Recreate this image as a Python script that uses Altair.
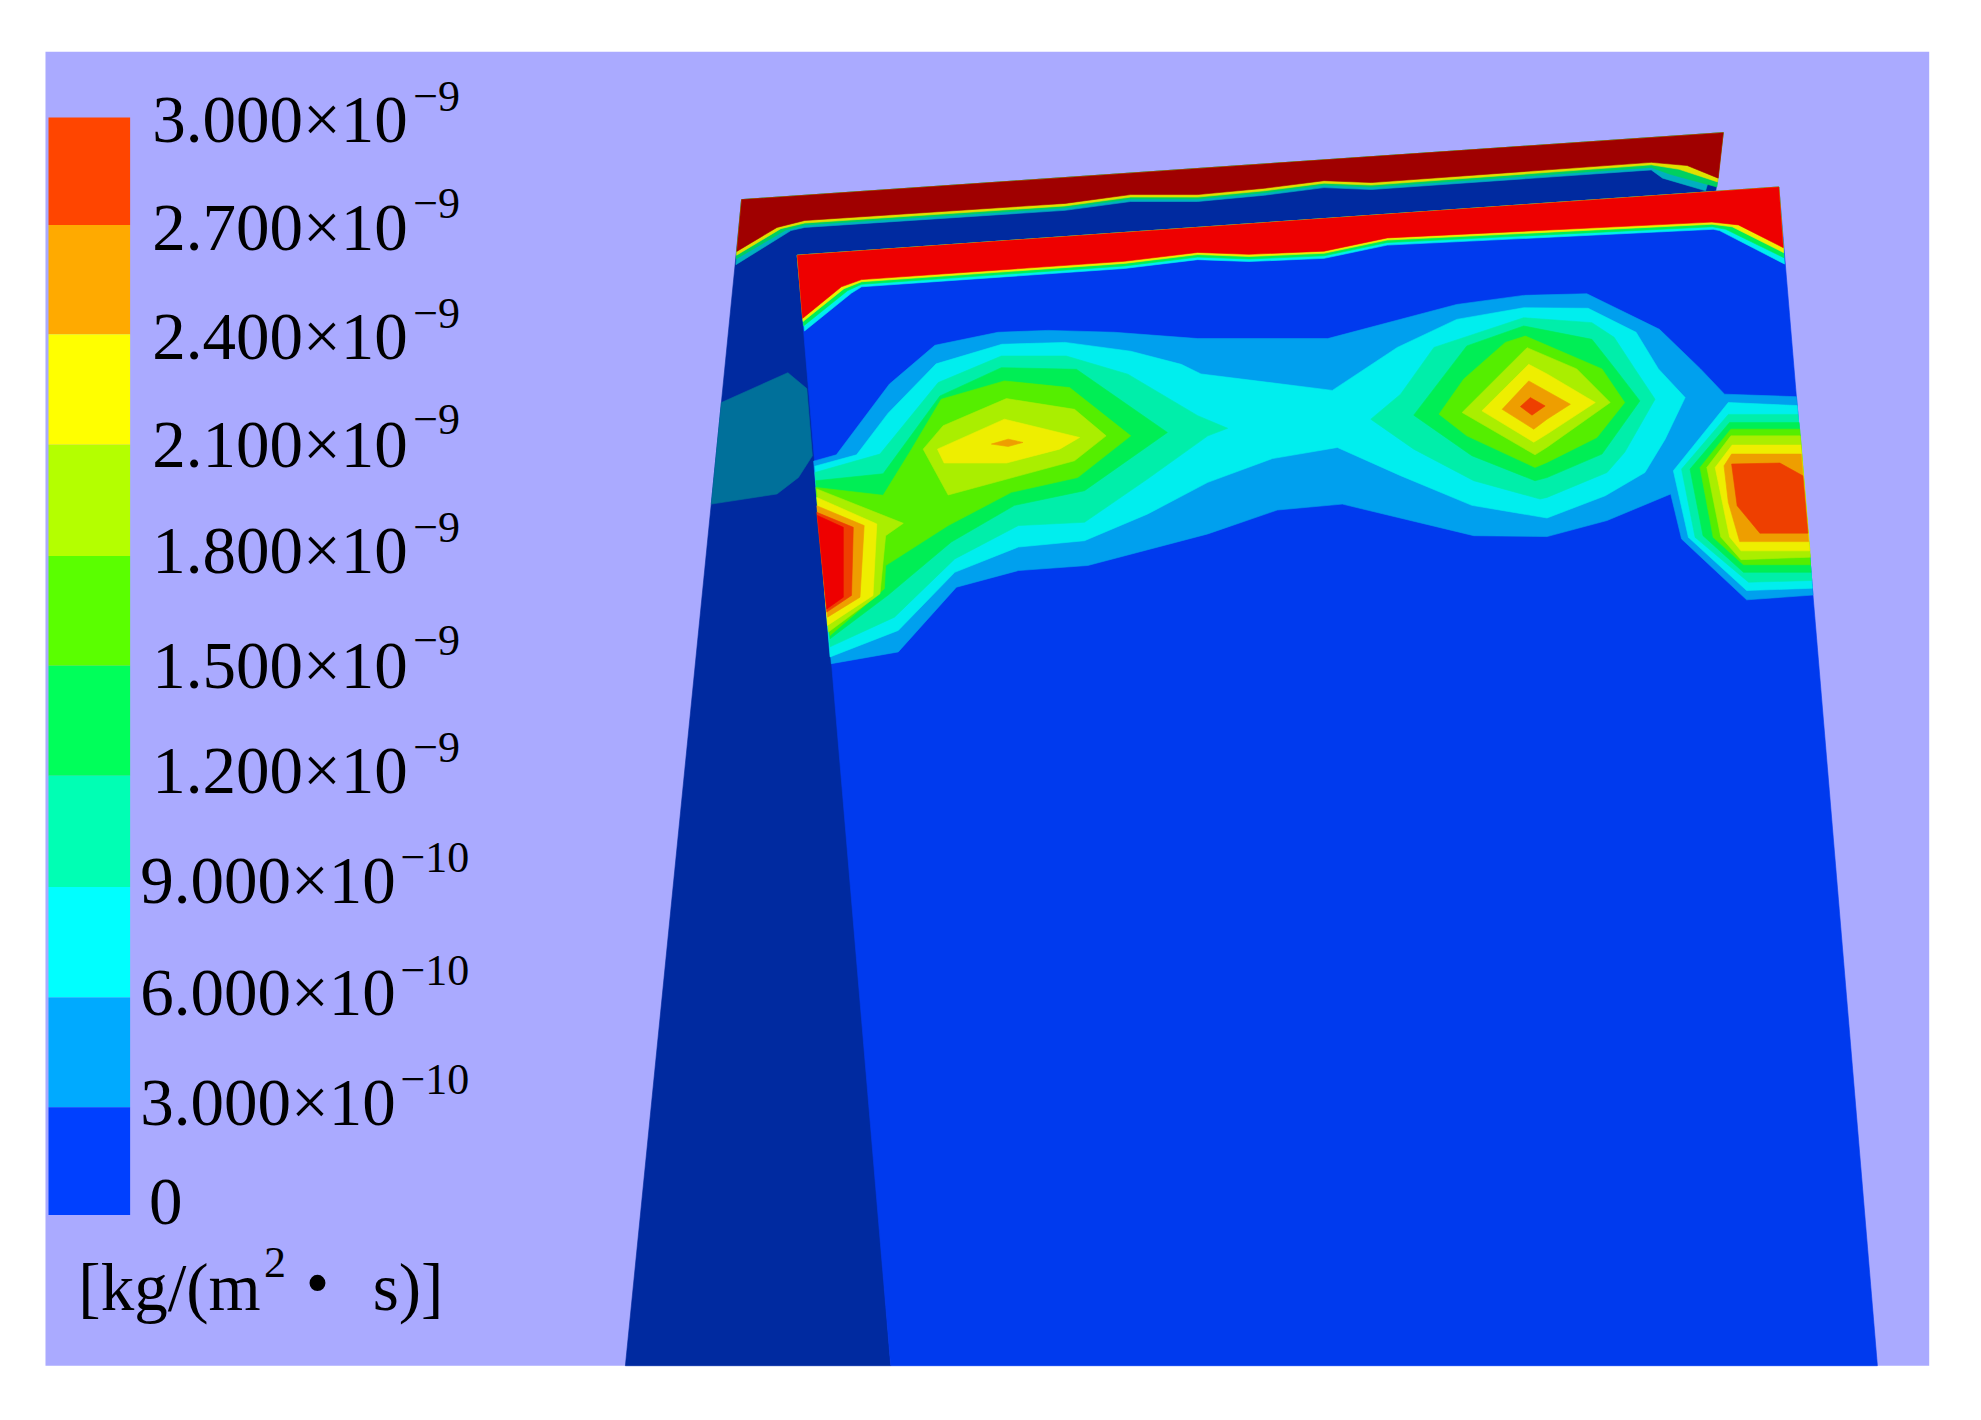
import altair as alt
import pandas as pd

K = 1981 / 1568
XD = [8 / K, 1973 / K]
YD = [1412 / K, 8 / K]

# colour bar
bar_edges = [93, 178, 264.6, 352, 440, 527, 614, 702, 789.5, 876.4, 961.7]
bar_colors = ["#FF4500", "#FFAA00", "#FFFF00", "#B4FF00", "#5AFF00", "#00FF5A", "#00FFB4", "#00FFFF", "#00AAFF", "#0040FF"]

# colour bar labels
mant_text = ["3.000×10", "2.700×10", "2.400×10", "2.100×10", "1.800×10", "1.500×10", "1.200×10", "9.000×10", "6.000×10", "3.000×10", "0"]
mant_x = [120.5, 120.5, 120.5, 120.5, 120.5, 120.5, 120.5, 111, 111, 111, 118]
mant_y = [112, 197.5, 284, 369.4, 453.7, 544.3, 627.5, 715, 803.7, 890.8, 968.5]
exp_text = ["−9", "−9", "−9", "−9", "−9", "−9", "−9", "−10", "−10", "−10"]
exp_x = [327, 327, 327, 327, 327, 327, 327, 317, 317, 317]
exp_y = [88, 172.5, 260, 343.6, 429, 518.7, 603, 690, 779.5, 866]
unit_text = ["[kg/(m", "s)]"]
unit_x = [62, 295]
unit_y = [1037, 1037]

# field colours
BLUE, SKY, CYAN, TEAL, GREEN, LIME, YG, YEL, ORG, ROR, RED = (
    "#003AEE", "#00A0EE", "#00EEEE", "#00EEAA", "#00EE55", "#55EE00",
    "#AAEE00", "#EEEE00", "#EE9E00", "#EE3F00", "#EE0000")
BACK, BACK_RED, PATCH = "#002AA0", "#A00000", "#00709A"

back_plate = [(587, 158), (1364, 105), (1358, 152), (640, 260), (705, 1081), (495, 1081)]
back_patch = [(571, 318.6), (623.6, 295), (638.6, 307.6), (643, 360.8), (632, 377.9), (615, 391), (563, 399)]
back_cyan = [(582.5, 209.5), (626, 182.5), (637, 180), (843, 166.5), (895, 159.5), (948, 159.5), (1001, 154.5), (1048, 148.5), (1085.5, 150), (1307, 134.5), (1316, 141), (1350, 151)]
back_green = [(582.6, 205), (622, 182), (637, 178), (843, 164.5), (895, 157.5), (948, 157.5), (1001, 152.5), (1048, 146.5), (1085.5, 148), (1307, 132.5), (1322, 138), (1359, 148)]
back_yellow = [(583, 202), (618, 181), (637, 176.5), (843, 163), (895, 156), (948, 156), (1001, 151), (1048, 145), (1085.5, 146.5), (1307, 130.5), (1329, 134), (1359.5, 144)]
back_red = [(583.2, 199), (615, 180), (637, 174.5), (843, 161), (895, 154), (948, 154), (1001, 149), (1048, 143), (1085.5, 144.5), (1307, 128.5), (1335.4, 131), (1360, 141)]

front_plate = [(631, 202), (1408, 148), (1486, 1081), (705, 1081)]
front_cyan = [(636.8, 262), (674, 232), (682, 227), (890, 212.5), (948, 205.5), (988.6, 207), (1048, 204.5), (1098, 194), (1356, 181.5), (1361, 182.5), (1412.5, 209)]
front_green = [(636, 258), (671, 230), (682, 225), (890, 210.5), (948, 203.5), (988.6, 205), (1048, 202.5), (1098, 192), (1355.5, 179.5), (1366, 181.5), (1412, 204)]
front_yellow = [(635.6, 254.5), (668, 228.5), (682, 223), (890, 208.5), (948, 201.5), (988.6, 203), (1048, 200.5), (1098, 190), (1355, 177.5), (1371, 179.5), (1411.8, 200)]
front_red = [(635.2, 252), (666, 227), (682, 221.3), (890, 206.8), (948, 199.8), (988.6, 201.3), (1048, 198.8), (1098, 188.3), (1355, 175.8), (1376, 178), (1411.5, 196)]

sky_main = [(644, 365), (662, 360), (704, 304), (740, 273.3), (790, 263), (829.5, 261.5), (882, 263), (948, 268), (1051, 268), (1153, 241), (1206, 233.8), (1256, 232.5), (1313.5, 260.7), (1346, 292), (1365, 312), (1422, 314), (1435, 471), (1382.5, 474.8), (1331, 426.6), (1322.4, 391), (1272, 412), (1224.5, 424.7), (1166.5, 424), (1062.5, 399), (1011, 403.7), (956, 422.6), (861, 447.6), (806, 451.6), (757, 464.8), (711, 516), (658, 525.3)]
cyan_main = [(645, 369), (678, 360), (703, 327), (741, 288), (793, 272.5), (843, 271), (895, 278), (935, 288.4), (950.6, 296), (1054.6, 309), (1106, 275), (1153, 252.8), (1206, 243.6), (1257, 244), (1295, 263), (1312.7, 292), (1333.8, 314.7), (1318, 347.6), (1302, 374), (1270.6, 392.4), (1224.5, 410), (1165, 400), (1108.6, 376.5), (1058.6, 354.2), (1007, 363), (956, 381.8), (908.5, 406.8), (858.4, 428), (806, 433), (755.7, 453), (711, 499), (657, 520)]
cyan_right = [(1368, 318.6), (1422.5, 321), (1434.5, 465.6), (1382.5, 467.4), (1336.4, 425.3), (1324.5, 372.6)]
teal_left = [(645, 374), (696.5, 359.4), (742.6, 302.8), (792.6, 281.8), (844, 281.8), (892.7, 296.2), (948, 329), (971.7, 339), (956, 345), (908.5, 379), (858.4, 413.4), (806, 416), (755.7, 442.4), (708, 488.5), (657, 512)]
teal_mid = [(1085, 331.8), (1108.6, 312), (1135, 275), (1206, 251.5), (1260, 255.4), (1277.6, 267), (1294, 292), (1310, 316), (1286, 358), (1272, 374), (1224.5, 393.7), (1219, 395), (1166.5, 380.5), (1119, 355.5)]
teal_right = [(1368, 328), (1423, 328), (1434, 459.5), (1384, 460.8), (1341.7, 425.3), (1331, 371.3)]
green_left = [(645.7, 380.5), (699, 375), (744, 313.4), (792.6, 291), (852, 292.3), (924, 342.3), (858.4, 388.4), (803, 400), (753, 429), (703, 471), (657, 505.6)]
green_mid = [(1119, 328.6), (1161, 273.8), (1206, 258), (1260, 268.6), (1278.5, 292), (1298, 317.3), (1268, 359.4), (1224.5, 378), (1215, 380.5), (1165, 360.7)]
green_right = [(1369, 334.4), (1424, 334.4), (1433.5, 453), (1380, 453), (1348, 424), (1337.7, 371.3)]
lime_left = [(645.7, 385.8), (699, 392), (721.5, 355.5), (745, 316), (795, 301.5), (846.6, 306.8), (895, 345), (853, 378), (800.5, 389.7), (750.5, 416), (701, 447.7), (700, 466), (657, 503)]
lime_mid = [(1139, 327.8), (1158.6, 300), (1191.5, 271), (1207.4, 266), (1268, 292), (1286, 318.6), (1264, 346.3), (1224.5, 366), (1215, 370), (1161, 345)]
lime_right = [(1370, 339.7), (1424.5, 339.7), (1433, 447), (1380, 447), (1356, 425.3), (1345.6, 370)]
yg_left = [(730.7, 355.5), (746.5, 337), (796.6, 315.5), (850.5, 324), (875.5, 345), (850.5, 364.7), (750.5, 391.8)]
yg_mid = [(1157.3, 326.5), (1208.7, 275.2), (1248, 292), (1274.5, 318.6), (1224.5, 354), (1215, 360)]
yg_right = [(1370, 345), (1425, 345), (1433, 441), (1378, 443), (1362, 425), (1351, 370)]
yg_blob = [(646.5, 387), (715, 414.2), (701, 424), (696.5, 470), (655.7, 500.3)]
yel_left = [(742, 355.5), (795, 331.8), (854.5, 346.3), (838.7, 355.5), (796.6, 366.5), (747.3, 366.5)]
yel_mid = [(1173, 325.2), (1210, 288.4), (1224.5, 296), (1262.7, 318.6), (1224.5, 343.6), (1214, 350)]
yel_right = [(1371, 352.3), (1425.3, 352.3), (1432.5, 436), (1378, 436), (1369, 425), (1357.6, 370)]
yel_blob = [(646.5, 393.7), (694, 414.7), (691, 471.4), (655, 495)]
org_left = [(784.7, 351.5), (798, 347.6), (809.7, 350.2), (798, 353.4)]
org_mid = [(1189, 324), (1210, 301.5), (1243, 320), (1224.5, 331.8), (1214, 339.7)]
org_right = [(1370.6, 359.4), (1425.7, 359.4), (1431.5, 428.7), (1377, 428.7), (1368, 397.6), (1364.6, 368.7)]
org_blob = [(646.5, 400.3), (684, 416), (680.7, 472.7), (655, 488.5)]
ror_mid = [(1203.4, 321.8), (1211.3, 314.7), (1223, 321.3), (1212.6, 328.6)]
ror_right = [(1370.6, 367.3), (1408.8, 366.5), (1427, 376.6), (1431, 422), (1393, 422), (1375, 400.3)]
ror_blob = [(646.5, 405.5), (675.4, 417.4), (674, 471.3), (654.4, 484.5)]
red_blob = [(647, 408), (667.5, 417.4), (667.5, 472.7), (654.4, 482)]

shapes = [
    (BACK, back_plate), (PATCH, back_patch),
    ("#00B0C0", [(587, 158), (1364, 105)] + back_cyan[::-1]),
    ("#00D060", [(587, 158), (1364, 105)] + back_green[::-1]),
    ("#E0E000", [(587, 158), (1364, 105)] + back_yellow[::-1]),
    (BACK_RED, [(587, 158), (1364, 105)] + back_red[::-1]),
    (BLUE, front_plate),
    (CYAN, [(631, 202), (1408, 148)] + front_cyan[::-1]),
    (GREEN, [(631, 202), (1408, 148)] + front_green[::-1]),
    (YEL, [(631, 202), (1408, 148)] + front_yellow[::-1]),
    (RED, [(631, 202), (1408, 148)] + front_red[::-1]),
    (SKY, sky_main), (CYAN, cyan_main), (CYAN, cyan_right),
    (TEAL, teal_left), (TEAL, teal_mid), (TEAL, teal_right),
    (GREEN, green_left), (GREEN, green_mid), (GREEN, green_right),
    (LIME, lime_left), (LIME, lime_mid), (LIME, lime_right),
    (YG, yg_left), (YG, yg_mid), (YG, yg_right), (YG, yg_blob),
    (YEL, yel_left), (YEL, yel_mid), (YEL, yel_right), (YEL, yel_blob),
    (ORG, org_left), (ORG, org_mid), (ORG, org_right), (ORG, org_blob),
    (ROR, ror_mid), (ROR, ror_right), (ROR, ror_blob), (RED, red_blob),
]

rows = []
for i, (col, pts) in enumerate(shapes):
    for j, (px, py) in enumerate(pts):
        rows.append({"sid": i, "pt": j, "x": px, "y": py, "c": col})
poly_df = pd.DataFrame(rows)

X = alt.Scale(domain=XD, nice=False, zero=False)
Y = alt.Scale(domain=YD, nice=False, zero=False)
ex = alt.X("x:Q", scale=X, axis=None, title=None)
ey = alt.Y("y:Q", scale=Y, axis=None, title=None)

panel = alt.Chart(pd.DataFrame({"x": [36], "x2": [1527], "y": [41], "y2": [1081]})).mark_rect(color="#AAAAFF").encode(
    x=ex, x2="x2:Q", y=ey, y2="y2:Q")

polys = alt.Chart(poly_df).mark_line(interpolate="linear-closed", strokeWidth=0.6).encode(
    x=ex, y=ey,
    detail=alt.Detail("sid:Q"),
    order=alt.Order("pt:Q"),
    fill=alt.Fill("c:N", scale=None),
    stroke=alt.Stroke("c:N", scale=None),
)

bar_df = pd.DataFrame({"x": [38.4] * 10, "x2": [103] * 10, "y": bar_edges[:-1], "y2": bar_edges[1:], "c": bar_colors})
bar = alt.Chart(bar_df).mark_rect().encode(x=ex, x2="x2:Q", y=ey, y2="y2:Q", fill=alt.Fill("c:N", scale=None))

FONT = "Liberation Serif"
def text_layer(txt, xs, ys, size):
    d = pd.DataFrame({"t": txt, "x": xs, "y": ys})
    return alt.Chart(d).mark_text(font=FONT, fontSize=size, align="left", baseline="alphabetic", color="#000000").encode(
        x=ex, y=ey, text="t:N")

layers = [
    panel, polys, bar,
    text_layer(mant_text, mant_x, mant_y, 67),
    text_layer(exp_text, exp_x, exp_y, 44),
    text_layer(unit_text, unit_x, unit_y, 67),
    text_layer(["2"], [209], [1010.6], 44),
    text_layer(["•"], [242], [1033], 67),
]

chart = alt.layer(*layers).properties(
    width=1965, height=1404, padding=0, background="#FFFFFF",
    autosize=alt.AutoSizeParams(type="none"),
).configure_view(stroke=None)

chart.save("out.html", embed_options={"renderer": "svg", "actions": False})
